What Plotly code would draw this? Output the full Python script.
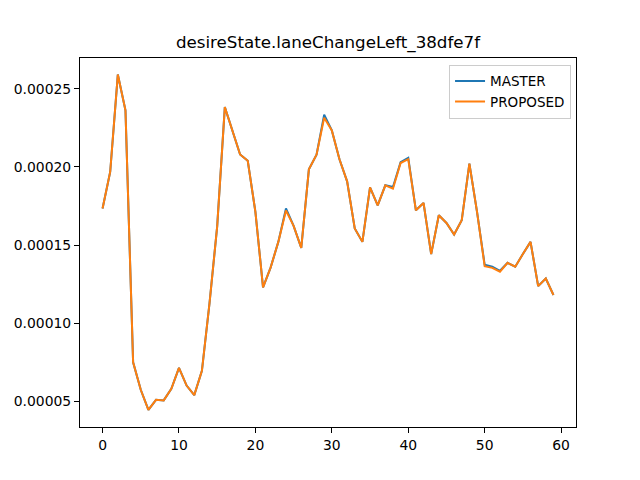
import plotly.graph_objects as go

x_vals = list(range(60))

master = [
    0.0001734, 0.0001968, 0.0002591, 0.0002362, 0.0000751, 0.0000575, 0.0000447, 0.0000511,
    0.0000507, 0.0000581, 0.0000715, 0.0000602, 0.0000541, 0.0000696, 0.0001130, 0.0001620,
    0.0002383, 0.0002234, 0.0002080, 0.0002040, 0.0001713, 0.0001230, 0.0001358, 0.0001521,
    0.0001735, 0.0001623, 0.0001483, 0.0001985, 0.0002079, 0.0002334, 0.0002234, 0.0002049,
    0.0001908, 0.0001607, 0.0001521, 0.0001870, 0.0001755, 0.0001883, 0.0001872, 0.0002031,
    0.0002058, 0.0001723, 0.0001770, 0.0001443, 0.0001691, 0.0001642, 0.0001568, 0.0001660,
    0.0002021, 0.0001713, 0.0001375, 0.0001362, 0.0001336, 0.0001387, 0.0001362, 0.0001443,
    0.0001521, 0.0001238, 0.0001287, 0.0001181,
]

proposed = [
    0.0001734, 0.0001968, 0.0002591, 0.0002362, 0.0000751, 0.0000575, 0.0000447, 0.0000511,
    0.0000507, 0.0000581, 0.0000715, 0.0000602, 0.0000541, 0.0000696, 0.0001130, 0.0001620,
    0.0002383, 0.0002234, 0.0002080, 0.0002040, 0.0001713, 0.0001230, 0.0001358, 0.0001521,
    0.0001722, 0.0001623, 0.0001483, 0.0001985, 0.0002079, 0.0002315, 0.0002234, 0.0002049,
    0.0001908, 0.0001607, 0.0001521, 0.0001870, 0.0001755, 0.0001883, 0.0001862, 0.0002025,
    0.0002050, 0.0001723, 0.0001770, 0.0001443, 0.0001691, 0.0001642, 0.0001568, 0.0001660,
    0.0002021, 0.0001713, 0.0001365, 0.0001355, 0.0001330, 0.0001387, 0.0001362, 0.0001443,
    0.0001521, 0.0001238, 0.0001287, 0.0001181,
]

y_ticks = [0.00005, 0.00010, 0.00015, 0.00020, 0.00025]
x_ticks = [0, 10, 20, 30, 40, 50, 60]
title_text = "desireState.laneChangeLeft_38dfe7f"

font_family = "DejaVu Sans"

fig = go.Figure()
fig.add_trace(go.Scatter(x=x_vals, y=master, mode="lines", name="MASTER",
                         line=dict(color="#1f77b4", width=2)))
fig.add_trace(go.Scatter(x=x_vals, y=proposed, mode="lines", name="PROPOSED",
                         line=dict(color="#ff7f0e", width=2)))

# page body has an 8px margin, so offsets compensate for it
fig.update_layout(
    width=640, height=480,
    margin=dict(l=72, r=72, t=49.6, b=60.8, pad=0, autoexpand=False),
    paper_bgcolor="white", plot_bgcolor="white",
    font=dict(family=font_family, size=13.9, color="black"),
    title=dict(text=title_text, x=0.5, xref="paper", xanchor="center",
               y=1 - 34 / 480, yref="container", yanchor="middle",
               font=dict(family=font_family, size=16.7, color="black")),
    legend=dict(x=0.99, y=0.982, xanchor="right", yanchor="top",
                bordercolor="#cccccc", borderwidth=1, bgcolor="rgba(255,255,255,0.8)",
                font=dict(family=font_family, size=13.5, color="black"),
                tracegroupgap=0, itemwidth=30),
    showlegend=True,
)

fig.update_xaxes(range=[-2.95, 61.95], tickvals=x_ticks, ticktext=[str(v) for v in x_ticks],
                 showgrid=False, zeroline=False, showline=True, linecolor="black",
                 linewidth=1, mirror=True, ticks="outside", ticklen=5, tickwidth=1,
                 tickcolor="black", automargin=False)
fig.update_yaxes(range=[0.0000337, 0.0002697], tickvals=y_ticks,
                 ticktext=["%.5f" % v for v in y_ticks],
                 showgrid=False, zeroline=False, showline=True, linecolor="black",
                 linewidth=1, mirror=True, ticks="outside", ticklen=5, tickwidth=1,
                 tickcolor="black", automargin=False)

fig.write_html("out.html")
